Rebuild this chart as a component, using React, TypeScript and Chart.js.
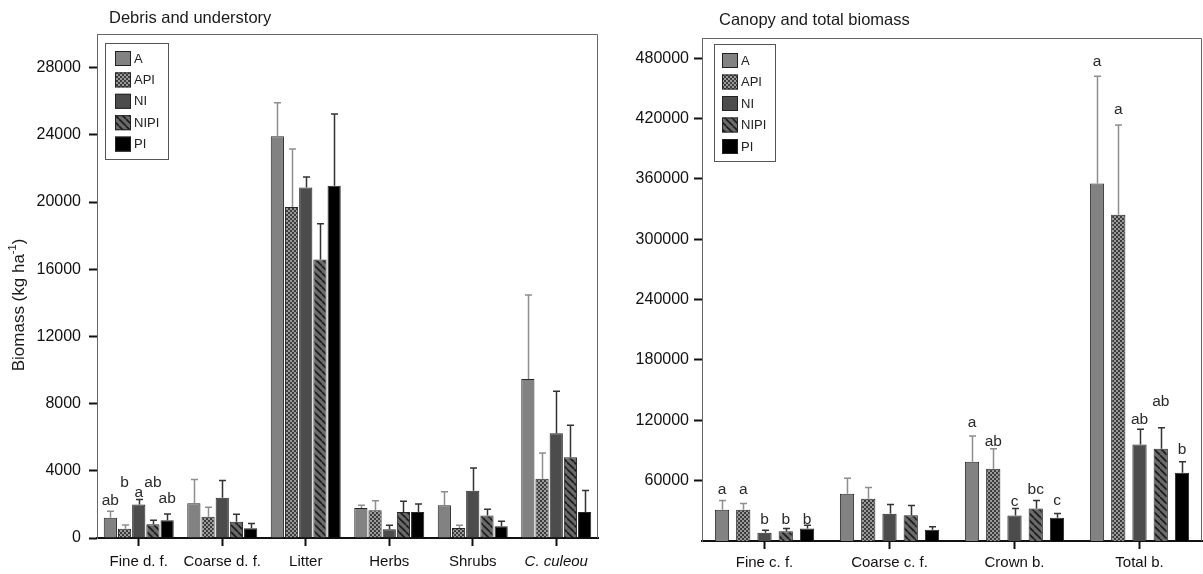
import React, { useEffect, useRef } from 'react';
import { Chart, registerables } from 'chart.js';

Chart.register(...registerables);

const FONT = '"Liberation Sans", Arial, sans-serif';
const SERIES = ['A', 'API', 'NI', 'NIPI', 'PI'];

// ---------- Left panel: Debris and understory ----------
const leftCategories = ['Fine d. f.', 'Coarse d. f.', 'Litter', 'Herbs', 'Shrubs', 'C. culeou'];
const leftA = [1200, 2070, 23920, 1790, 1950, 9460];
const leftAPI = [555, 1270, 19700, 1650, 600, 3520];
const leftNI = [1990, 2390, 20860, 520, 2810, 6230];
const leftNIPI = [815, 970, 16580, 1550, 1340, 4800];
const leftPI = [1050, 575, 20960, 1550, 700, 1550];
const leftSeA = [390, 1410, 1990, 160, 800, 5010];
const leftSeAPI = [220, 560, 3450, 560, 160, 1540];
const leftSeNI = [300, 1030, 630, 240, 1350, 2510];
const leftSeNIPI = [235, 440, 2130, 640, 370, 1910];
const leftSePI = [380, 295, 4280, 480, 300, 1280];
const leftLetA = ['ab', '', '', '', '', ''];
const leftLetAPI = ['b', '', '', '', '', ''];
const leftLetNI = ['a', '', '', '', '', ''];
const leftLetNIPI = ['ab', '', '', '', '', ''];
const leftLetPI = ['ab', '', '', '', '', ''];
const leftLetPosA = [2200, null, null, null, null, null];
const leftLetPosAPI = [3300, null, null, null, null, null];
const leftLetPosNI = [2700, null, null, null, null, null];
const leftLetPosNIPI = [3300, null, null, null, null, null];
const leftLetPosPI = [2320, null, null, null, null, null];
const leftYMax = 30000;
const leftYTicks = [0, 4000, 8000, 12000, 16000, 20000, 24000, 28000];

// ---------- Right panel: Canopy and total biomass ----------
const rightCategories = ['Fine c. f.', 'Coarse c. f.', 'Crown b.', 'Total b.'];
const rightA = [31000, 47000, 78800, 355400];
const rightAPI = [31000, 42000, 71800, 324200];
const rightNI = [8100, 27000, 25400, 96000];
const rightNIPI = [9800, 25700, 32300, 91700];
const rightPI = [12400, 11100, 23100, 67900];
const rightSeA = [9300, 15500, 25500, 106500];
const rightSeAPI = [6300, 11200, 19900, 89200];
const rightSeNI = [2600, 9300, 6900, 15200];
const rightSeNIPI = [2600, 9600, 8000, 20900];
const rightSePI = [3300, 3000, 4300, 10900];
const rightLetA = ['a', '', 'a', 'a'];
const rightLetAPI = ['a', '', 'ab', 'a'];
const rightLetNI = ['b', '', 'c', 'ab'];
const rightLetNIPI = ['b', '', 'bc', 'ab'];
const rightLetPI = ['b', '', 'c', 'b'];
const rightLetPosA = [51200, null, 117600, 476400];
const rightLetPosAPI = [51200, null, 98300, 428600];
const rightLetPosNI = [20700, null, 38600, 120900];
const rightLetPosNIPI = [20700, null, 51200, 138100];
const rightLetPosPI = [20700, null, 39600, 90300];
const rightYMax = 500000;
const rightYTicks = [60000, 120000, 180000, 240000, 300000, 360000, 420000, 480000];

const ERR_COLORS = ['#8e8e8e', '#8e8e8e', '#333333', '#333333', '#333333'];

function makeFills(): (string | CanvasPattern)[] {
  const chk = document.createElement('canvas');
  chk.width = 4; chk.height = 4;
  const c1 = chk.getContext('2d')!;
  c1.fillStyle = '#9a9a9a'; c1.fillRect(0, 0, 4, 4);
  c1.fillStyle = '#3c3c3c'; c1.fillRect(0, 0, 2, 2); c1.fillRect(2, 2, 2, 2);
  const hat = document.createElement('canvas');
  hat.width = 7; hat.height = 7;
  const c2 = hat.getContext('2d')!;
  c2.fillStyle = '#6a6a6a'; c2.fillRect(0, 0, 7, 7);
  c2.strokeStyle = '#1a1a1a'; c2.lineWidth = 1.6;
  for (const o of [-7, 0, 7]) {
    c2.beginPath(); c2.moveTo(o, 0); c2.lineTo(o + 7, 7); c2.stroke();
  }
  const tmp = document.createElement('canvas').getContext('2d')!;
  return ['#828282', tmp.createPattern(chk, 'repeat')!, '#4c4c4c', tmp.createPattern(hat, 'repeat')!, '#000000'];
}

type Spec = {
  width: number;
  categories: string[];
  values: number[][];
  se: number[][];
  letters: string[][];
  letterPos: (number | null)[][];
  yMax: number;
  yTicks: number[];
  padTop: number;
  padRight: number;
  yWidth: number;
  xHeight: number;
  xPad: number;
  yPad: number;
  catPct: number;
  barPct: number;
  italicIndex: number;
  title: string;
  titleX: number;
  titleY: number;
  legend: { dx: number; dy: number; w: number; h: number; sx: number; row0: number; rowGap: number; tx: number };
  yTitle: boolean;
};

function makePlugin(spec: Spec, fills: (string | CanvasPattern)[]) {
  return {
    id: 'decor',
    beforeDatasetsDraw(chart: any) {
      const { ctx, chartArea: a } = chart;
      ctx.save();
      ctx.strokeStyle = '#666';
      ctx.lineWidth = 1;
      ctx.beginPath();
      ctx.moveTo(a.left, a.top + 0.5);
      ctx.lineTo(a.right - 0.5, a.top + 0.5);
      ctx.lineTo(a.right - 0.5, a.bottom);
      ctx.stroke();
      ctx.restore();
    },
    afterDatasetsDraw(chart: any) {
      const { ctx, chartArea: a } = chart;
      const ys = chart.scales.y;
      ctx.save();
      // error bars
      spec.values.forEach((vals, i) => {
        const meta = chart.getDatasetMeta(i);
        ctx.strokeStyle = ERR_COLORS[i];
        ctx.lineWidth = 1.5;
        meta.data.forEach((bar: any, j: number) => {
          const top = ys.getPixelForValue(vals[j] + spec.se[i][j]);
          const x = Math.round(bar.x) + 0.5;
          ctx.beginPath();
          ctx.moveTo(x, bar.y);
          ctx.lineTo(x, top);
          ctx.moveTo(x - 3.5, top);
          ctx.lineTo(x + 3.5, top);
          ctx.stroke();
        });
      });
      // letters
      ctx.fillStyle = '#2a2a2a';
      ctx.font = `15.5px ${FONT}`;
      ctx.textAlign = 'center';
      ctx.textBaseline = 'middle';
      spec.letters.forEach((lets, i) => {
        const meta = chart.getDatasetMeta(i);
        lets.forEach((t, j) => {
          const p = spec.letterPos[i][j];
          if (!t || p == null) return;
          ctx.fillText(t, meta.data[j].x, ys.getPixelForValue(p));
        });
      });
      // legend
      const L = spec.legend;
      const lx = a.left + L.dx;
      const ly = a.top + L.dy;
      ctx.fillStyle = '#fff';
      ctx.fillRect(lx, ly, L.w, L.h);
      ctx.strokeStyle = '#555';
      ctx.lineWidth = 1;
      ctx.strokeRect(lx + 0.5, ly + 0.5, L.w, L.h);
      ctx.font = `13px ${FONT}`;
      ctx.textAlign = 'left';
      ctx.textBaseline = 'middle';
      SERIES.forEach((name, i) => {
        const cy = ly + L.row0 + i * L.rowGap;
        ctx.fillStyle = fills[i] as any;
        ctx.fillRect(lx + L.sx, cy - 7, 16, 15);
        ctx.strokeStyle = '#222';
        ctx.strokeRect(lx + L.sx + 0.5, cy - 6.5, 15, 14);
        ctx.fillStyle = '#222';
        ctx.fillText(name, lx + L.tx, cy + 1);
      });
      // panel title
      ctx.fillStyle = '#1a1a1a';
      ctx.font = `16.5px ${FONT}`;
      ctx.textAlign = 'left';
      ctx.textBaseline = 'middle';
      ctx.fillText(spec.title, spec.titleX, spec.titleY);
      // y-axis title
      if (spec.yTitle) {
        ctx.translate(19, 305);
        ctx.rotate(-Math.PI / 2);
        const big = `17px ${FONT}`;
        const small = `11px ${FONT}`;
        const p1 = 'Biomass (kg ha';
        const p2 = '-1';
        const p3 = ')';
        ctx.font = big;
        const w1 = ctx.measureText(p1).width;
        const w3 = ctx.measureText(p3).width;
        ctx.font = small;
        const w2 = ctx.measureText(p2).width;
        const total = w1 + w2 + w3;
        let x = -total / 2;
        ctx.fillStyle = '#1a1a1a';
        ctx.textAlign = 'left';
        ctx.font = big;
        ctx.fillText(p1, x, 0);
        x += w1;
        ctx.font = small;
        ctx.fillText(p2, x, -6);
        x += w2;
        ctx.font = big;
        ctx.fillText(p3, x, 0);
      }
      ctx.restore();
    },
  };
}

function Panel({ spec, left }: { spec: Spec; left: number }) {
  const ref = useRef<HTMLCanvasElement>(null);
  useEffect(() => {
    const fills = makeFills();
    const chart = new Chart(ref.current!, {
      type: 'bar',
      data: {
        labels: spec.categories,
        datasets: SERIES.map((name, i) => ({
          label: name,
          data: spec.values[i],
          backgroundColor: fills[i] as any,
          borderColor: '#262626',
          borderWidth: 1,
          categoryPercentage: spec.catPct,
          barPercentage: spec.barPct,
        })),
      },
      options: {
        responsive: false,
        animation: false,
        devicePixelRatio: 1,
        layout: { padding: { left: 0, right: spec.padRight, top: spec.padTop, bottom: 0 } },
        plugins: { legend: { display: false }, tooltip: { enabled: false }, title: { display: false } },
        scales: {
          x: {
            type: 'category',
            offset: true,
            grid: { display: true, drawOnChartArea: false, drawTicks: true, tickLength: 8, tickWidth: 2, tickColor: '#111', offset: false },
            border: { display: true, color: '#111', width: 2 },
            ticks: {
              color: '#111',
              padding: spec.xPad,
              maxRotation: 0,
              autoSkip: false,
              font: (c: any) => ({ family: FONT, size: 15, style: c.index === spec.italicIndex ? 'italic' : 'normal' }),
            },
            afterFit: (s: any) => { s.height = spec.xHeight; },
          },
          y: {
            min: 0,
            max: spec.yMax,
            afterBuildTicks: (s: any) => { s.ticks = spec.yTicks.map((v) => ({ value: v })); },
            ticks: {
              autoSkip: false,
              color: '#111',
              padding: spec.yPad,
              font: { family: FONT, size: 16 },
              callback: (v: any) => String(v),
            },
            grid: {
              display: true,
              drawOnChartArea: false,
              drawTicks: true,
              tickLength: 8,
              tickWidth: 2,
              tickColor: '#111',
            },
            border: { display: true, color: '#666', width: 1 },
            afterFit: (s: any) => { s.width = spec.yWidth; },
          },
        },
      } as any,
      plugins: [makePlugin(spec, fills)],
    });
    return () => chart.destroy();
  }, [spec]);
  return (
    <canvas
      ref={ref}
      width={spec.width}
      height={574}
      style={{ position: 'absolute', left, top: 0, width: spec.width, height: 574, display: 'block' }}
    />
  );
}

const leftSpec: Spec = {
  width: 600,
  categories: leftCategories,
  values: [leftA, leftAPI, leftNI, leftNIPI, leftPI],
  se: [leftSeA, leftSeAPI, leftSeNI, leftSeNIPI, leftSePI],
  letters: [leftLetA, leftLetAPI, leftLetNI, leftLetNIPI, leftLetPI],
  letterPos: [leftLetPosA, leftLetPosAPI, leftLetPosNI, leftLetPosNIPI, leftLetPosPI],
  yMax: leftYMax,
  yTicks: leftYTicks,
  padTop: 34,
  padRight: 2,
  yWidth: 97,
  xHeight: 36,
  xPad: 7,
  yPad: 8,
  catPct: 0.85,
  barPct: 0.93,
  italicIndex: 5,
  title: 'Debris and understory',
  titleX: 109,
  titleY: 18,
  legend: { dx: 8, dy: 9, w: 63, h: 116, sx: 10, row0: 15, rowGap: 21.4, tx: 29 },
  yTitle: true,
};

const rightSpec: Spec = {
  width: 603,
  categories: rightCategories,
  values: [rightA, rightAPI, rightNI, rightNIPI, rightPI],
  se: [rightSeA, rightSeAPI, rightSeNI, rightSeNIPI, rightSePI],
  letters: [rightLetA, rightLetAPI, rightLetNI, rightLetNIPI, rightLetPI],
  letterPos: [rightLetPosA, rightLetPosAPI, rightLetPosNI, rightLetPosNIPI, rightLetPosPI],
  yMax: rightYMax,
  yTicks: rightYTicks,
  padTop: 38,
  padRight: 1,
  yWidth: 102,
  xHeight: 33,
  xPad: 5,
  yPad: 5,
  catPct: 0.85,
  barPct: 0.67,
  italicIndex: -1,
  title: 'Canopy and total biomass',
  titleX: 119,
  titleY: 20,
  legend: { dx: 12, dy: 6, w: 61, h: 117, sx: 8, row0: 16, rowGap: 21.5, tx: 27 },
  yTitle: false,
};

export default function App() {
  return (
    <div style={{ position: 'absolute', left: 0, top: 0, width: 1203, height: 574, background: '#fff', overflow: 'hidden' }}>
      <Panel spec={leftSpec} left={0} />
      <Panel spec={rightSpec} left={600} />
    </div>
  );
}
